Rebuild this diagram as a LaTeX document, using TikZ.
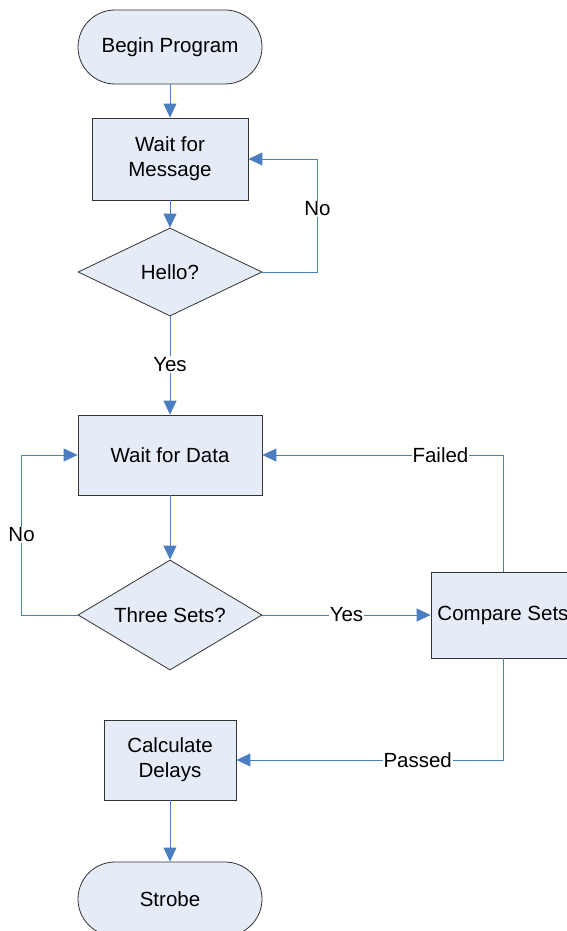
\documentclass[tikz,border=0pt]{standalone}
\usepackage{fontspec}
\setmainfont{Liberation Sans}
\usetikzlibrary{shapes.geometric,arrows.meta}
\definecolor{boxfill}{RGB}{230,236,247}
\definecolor{linkblue}{RGB}{74,126,193}
\begin{document}
\begin{tikzpicture}[x=1pt,y=-1pt,
  font=\fontsize{20.5}{25}\selectfont,
  base/.style={draw=black!80, line width=0.8pt, fill=boxfill, align=center, inner sep=0pt},
  term/.style={base, rectangle, rounded corners=37pt, minimum width=184pt, minimum height=74pt},
  proc/.style={base, rectangle},
  dec/.style={base, diamond, aspect=2.2, minimum width=184pt},
  link/.style={draw=linkblue, line width=1pt, -{Triangle[length=14pt,width=13pt]}},
  lbl/.style={fill=white, inner sep=1pt}]
\useasboundingbox (0,0) rectangle (567,931);
\clip (0,0) rectangle (567,931);
\node[term] (begin) at (170,47) {Begin Program};
\node[proc, minimum width=156pt, minimum height=82pt] (waitmsg) at (170,159) {Wait for\\Message};
\node[dec, minimum height=88pt] (hello) at (170,272) {Hello?};
\node[proc, minimum width=184pt, minimum height=80pt] (waitdata) at (170,455) {Wait for Data};
\node[dec, minimum height=110pt] (three) at (170,615) {Three Sets?};
\node[proc, minimum width=144pt, minimum height=86pt] (compare) at (503,615) {Compare Sets};
\node[proc, minimum width=132pt, minimum height=80pt] (calc) at (170,760) {Calculate\\Delays};
\node[term] (strobe) at (170,899) {Strobe};
\draw[link] (begin) -- (waitmsg);
\draw[link] (waitmsg) -- (hello);
\draw[link] (hello.east) -- ++(55,0) |- node[lbl, pos=0.28]{No} (waitmsg.east);
\draw[link] (hello.south) -- node[lbl, pos=0.49]{Yes} (waitdata.north);
\draw[link] (waitdata) -- (three);
\draw[link] (three.west) -- ++(-56,0) |- node[lbl, pos=0.25]{No} (waitdata.west);
\draw[link] (three.east) -- node[lbl, pos=0.5]{Yes} (compare.west);
\draw[link] (compare.north) |- node[lbl, pos=0.63]{Failed} (waitdata.east);
\draw[link] (compare.south) |- node[lbl, pos=0.66]{Passed} (calc.east);
\draw[link] (calc) -- (strobe);
\end{tikzpicture}
\end{document}
